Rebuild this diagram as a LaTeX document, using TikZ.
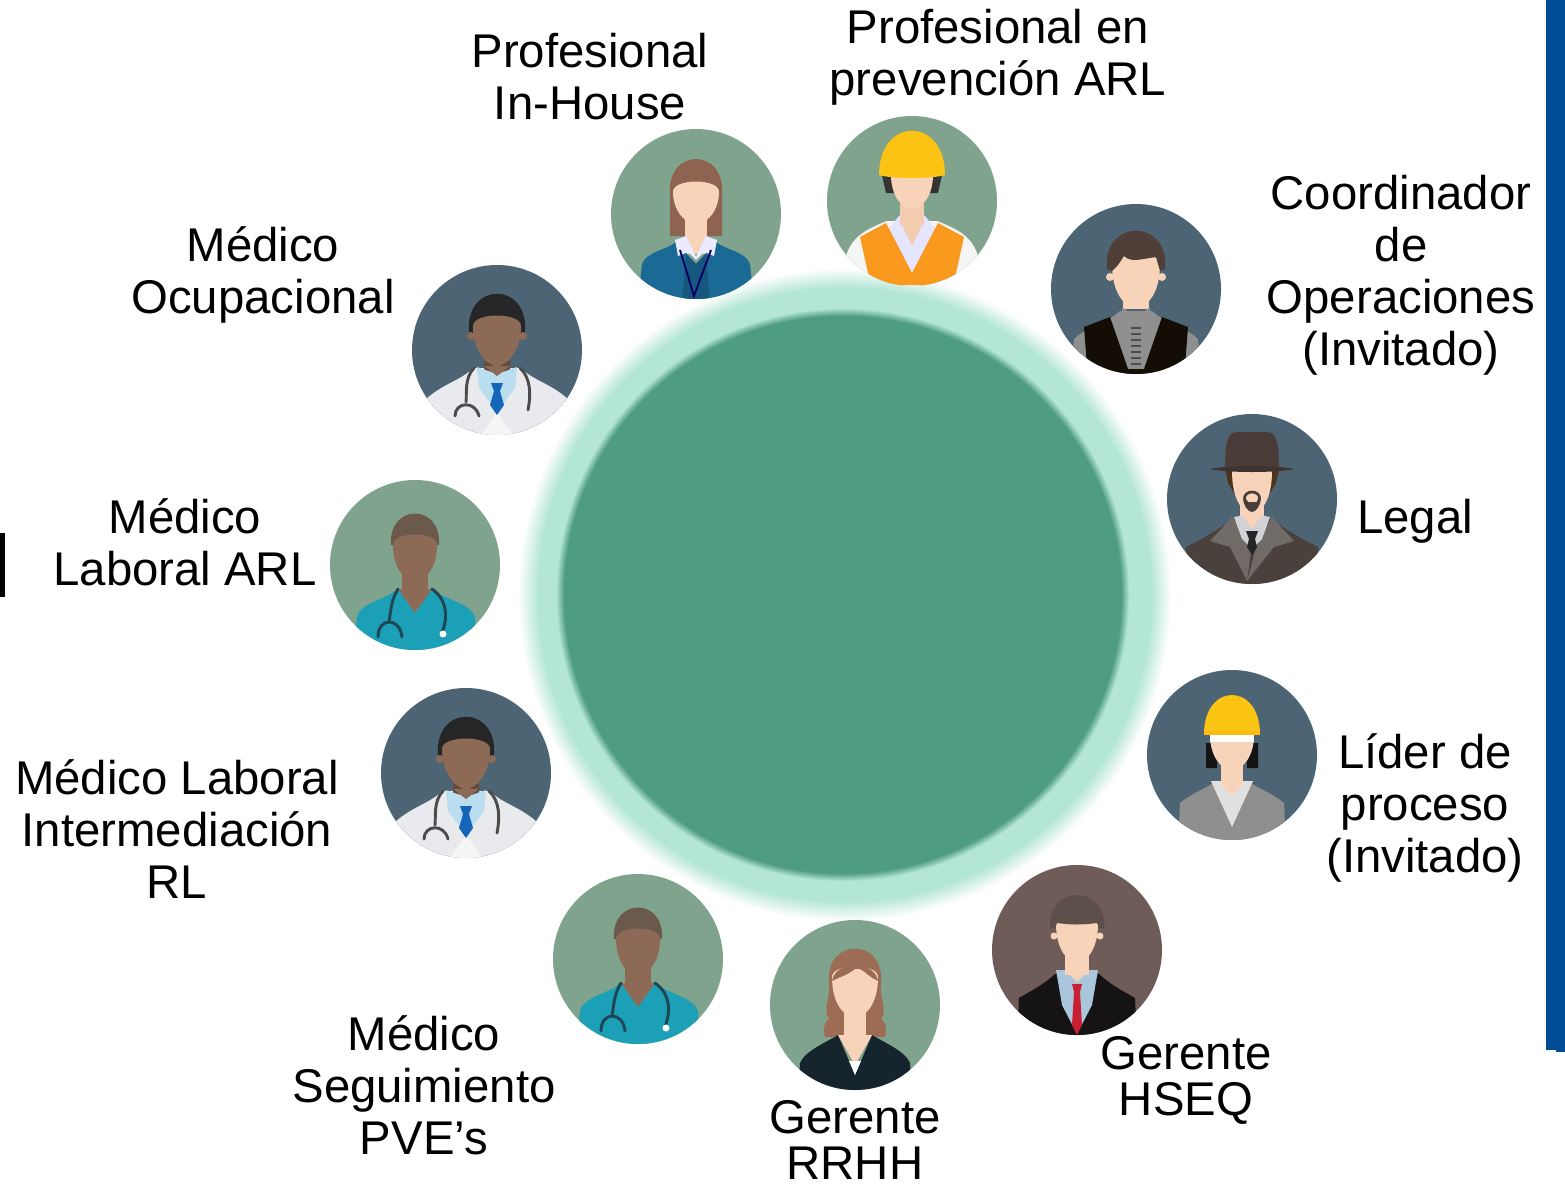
\documentclass[tikz,border=0pt]{standalone}
\usepackage{fontspec}
\setmainfont{Liberation Sans}
\definecolor{halog}{HTML}{B4E6D6}
\definecolor{coreg}{HTML}{4E9C83}
\definecolor{bgslate}{HTML}{4C6473}
\definecolor{bggreen}{HTML}{80A38D}
\definecolor{bgbrown}{HTML}{6F5B57}
\definecolor{skin}{HTML}{F7D3B9}
\definecolor{skindark}{HTML}{8C6A56}
\definecolor{coat}{HTML}{E9EAED}
\definecolor{barblue}{HTML}{004D95}
\definecolor{helmet}{HTML}{FBC312}
\definecolor{vest}{HTML}{F9991E}
\definecolor{scrub}{HTML}{1BA0B8}
\definecolor{steth}{HTML}{1F4652}
\definecolor{nursehair}{HTML}{6B5A4C}
\definecolor{tieblue}{HTML}{1565B8}
\definecolor{collarblue}{HTML}{BBDDF0}
\definecolor{jacketblue}{HTML}{1B6A96}
\definecolor{jacketdeep}{HTML}{17567D}
\definecolor{hairred}{HTML}{8E6450}
\definecolor{hairwarm}{HTML}{9C6C55}
\definecolor{hairgrey}{HTML}{5D4F49}
\definecolor{hairdark}{HTML}{4F3F38}
\definecolor{coatbrown}{HTML}{4A403C}
\definecolor{lapel}{HTML}{716B68}
\definecolor{hatbrown}{HTML}{4A3C38}
\definecolor{suitnavy}{HTML}{16242E}
\definecolor{shirtblue}{HTML}{A9C6DD}
\definecolor{tiered}{HTML}{C82030}
\definecolor{suitblack}{HTML}{151313}
\definecolor{midgrey}{HTML}{8F8F8F}
\tikzset{
 avatarbase/.style={circle,inner sep=0pt,minimum size=127.5pt,draw=none},
 lbl/.style={font=\fontsize{35.5}{39}\selectfont,align=center,text=black,inner sep=0pt},
 lbltight/.style={font=\fontsize{35.5}{34.5}\selectfont,align=center,text=black,inner sep=0pt},
}
% name, cx, cy, background, figure
\newcommand{\avfig}[5]{%
 \node[avatarbase,fill=#4] (#1) at (#2,#3) {};
 \begin{scope}[shift={(#2,#3)}]
  \clip (0,0) circle (85);
  #5
 \end{scope}}
\newcommand{\face}[4]{\fill[#1] ({-#2},#3) .. controls ({-#2},{#4-14}) and ({-.5*#2},#4) .. (0,#4) .. controls ({.5*#2},#4) and (#2,{#4-14}) .. (#2,#3) .. controls (#2,{#3-14}) and ({-#2},{#3-14}) .. cycle;}
\newcommand{\necks}[4]{\fill[#1] ({-#2},#3) rectangle (#2,#4);}
\newcommand{\doctorfig}{%
 \fill[coat] (-72,90) -- (-72,50) .. controls (-55,34) and (-35,30) .. (-24,18) -- (24,18) .. controls (35,30) and (55,34) .. (72,50) -- (72,90) -- cycle;
 \fill[black!4] (-20,90) -- (0,62) -- (20,90) -- cycle;
 \fill[black!85!white] (-28,-18) .. controls (-32,-69) and (32,-69) .. (28,-18) -- (24,-14) -- (-24,-14) -- cycle;
 \necks{skindark}{13}{0}{24}
 \fill[black!30!skindark] (-13,10) -- (0,18) -- (13,10) -- (13,22) -- (-13,22) -- cycle;
 \face{skindark}{24}{-24}{14}
 \fill[skindark] (-26,-14) circle (4) (26,-14) circle (4);
 \fill[collarblue] (-20,17) -- (0,24) -- (20,17) -- (18,38) -- (0,62) -- (-18,38) -- cycle;
 \fill[skindark] (-13,16) -- (0,26) -- (13,16) -- cycle;
 \fill[tieblue] (-6,33) -- (6,33) -- (3,41) -- (7,55) -- (0,65) -- (-7,55) -- (-3,41) -- cycle;
 \draw[black!70,line width=2.2pt,line cap=round] (-23,18) .. controls (-33,28) and (-30,45) .. (-31,52);
 \draw[black!70,line width=2.2pt,line cap=round] (-42,66) .. controls (-42,52) and (-22,50) .. (-18,66);
 \draw[black!70,line width=2.2pt,line cap=round] (23,18) .. controls (34,28) and (34,45) .. (31,60);
}
\newcommand{\nursefig}{%
 \fill[nursehair] (-24,-20) .. controls (-27,-62) and (27,-62) .. (24,-20) -- cycle;
 \necks{skindark}{13}{0}{40}
 \fill[scrub] (-62,90) -- (-58,52) .. controls (-55,38) and (-30,35) .. (-17,24) -- (0,48) -- (17,24) .. controls (30,35) and (55,38) .. (60,52) -- (62,90) -- cycle;
 \fill[skindark] (-17,24) -- (0,48) -- (17,24) -- cycle;
 \face{skindark}{22}{-20}{16}
 \draw[steth,line width=2.2pt,line cap=round] (-17,24) .. controls (-24,35) and (-24,45) .. (-26,57);
 \draw[steth,line width=2.2pt,line cap=round] (-37,72) .. controls (-37,52) and (-15,52) .. (-13,72);
 \draw[steth,line width=2.2pt,line cap=round] (17,24) .. controls (34,36) and (32,55) .. (27,68);
 \fill[white] (28,69) circle (3.5);
}
\begin{document}
\begin{tikzpicture}[x=0.75pt,y=-0.75pt]
\useasboundingbox (0,0) rectangle (1565,1184);
\fill[white] (0,0) rectangle (1565,1184);
% side marks
\coordinate (barA) at (0,533);
\coordinate (barB) at (5,597);
\fill[black] (barA) rectangle (barB);
\coordinate (blueA) at (1546,0);
\coordinate (blueB) at (1565,1050);
\fill[barblue] (blueA) rectangle (blueB);
\fill[barblue] (1556,1050) rectangle (1565,1052);
% halo and central disc
\foreach \i in {0,...,20}{
 \pgfmathsetmacro\rr{327-\i}
 \pgfmathsetmacro\pp{100*\i/20}
 \fill[halog!\pp!white] (845,595) circle (\rr);
}
\foreach \i in {0,...,8}{
 \pgfmathsetmacro\rr{287-\i}
 \pgfmathsetmacro\pp{100*\i/8}
 \fill[coreg!\pp!halog] (843,595) circle (\rr);
}
% In-House woman
\avfig{inhouse}{696}{214}{bggreen}{
 \fill[hairred] (-26,-22) .. controls (-28,-66) and (28,-66) .. (26,-22) -- (26,22) -- (-26,22) -- cycle;
 \necks{skin}{11}{0}{40}
 \fill[jacketblue] (-58,90) -- (-54,50) .. controls (-50,38) and (-30,36) .. (-20,28) -- (0,50) -- (20,28) .. controls (30,36) and (50,38) .. (54,50) -- (58,90) -- cycle;
 \fill[jacketdeep] (-10,40) -- (0,50) -- (10,40) -- (14,90) -- (-14,90) -- cycle;
 \fill[white!92!blue] (-21,26) -- (-10,22) -- (0,43) -- (10,22) -- (21,26) -- (18,42) -- (8,38) -- (0,46) -- (-8,38) -- (-18,42) -- cycle;
 \fill[skin] (-9,20) -- (0,38) -- (9,20) -- cycle;
 \face{skin}{23}{-22}{10}
 \draw[black!60!blue,line width=1.4pt] (-16,36) -- (-2,82) -- (15,36);
}
% prevention engineer
\avfig{prevencion}{912}{201}{bggreen}{
 \fill[white!96!black] (-66,90) -- (-66,55) .. controls (-60,35) and (-45,28) .. (-25,20) -- (25,20) .. controls (45,28) and (60,35) .. (66,55) -- (66,90) -- cycle;
 \fill[white!90!blue] (-24,28) -- (-12,14) -- (12,14) -- (24,28) -- (0,72) -- cycle;
 \necks{skin!92!brown}{12}{0}{24}
 \fill[skin!92!brown] (-12,20) -- (0,45) -- (12,20) -- cycle;
 \fill[vest] (-52,36) -- (-26,22) -- (0,72) -- (26,22) -- (52,36) -- (44,72) -- (36,84) -- (-36,84) -- (-44,72) -- cycle;
 \fill[black!80] (-30,-26) -- (30,-26) -- (26,-8) -- (-26,-8) -- cycle;
 \face{skin}{21}{-26}{8}
 \fill[helmet] (-33,-26) .. controls (-33,-85) and (33,-85) .. (33,-26) .. controls (20,-22) and (-20,-22) .. (-33,-26) -- cycle;
}
% coordinator
\avfig{coordinador}{1136}{289}{bgslate}{
 \fill[midgrey] (-66,90) -- (-62,50) .. controls (-50,38) and (-30,35) .. (-16,22) -- (16,22) .. controls (30,35) and (50,38) .. (62,50) -- (66,90) -- cycle;
 \fill[black!90!brown] (-52,38) -- (-26,28) -- (-8,80) -- (8,80) -- (26,28) -- (52,38) -- (48,90) -- (-48,90) -- cycle;
 \necks{skin}{13}{0}{20}
 \fill[midgrey] (-14,18) -- (0,28) -- (14,18) -- (14,32) -- (-14,32) -- cycle;
 \foreach \yy in {38,44,50,56,62,68,74}{\fill[black!70] (-5,\yy) rectangle (5,{\yy+1.5});}
 \face{skin}{24}{-25}{18}
 \fill[skin] (-26,-12) circle (4) (26,-12) circle (4);
 \fill[hairdark] (-29,-20) .. controls (-34,-71) and (34,-71) .. (29,-20) -- (24,-18) -- (20,-32) .. controls (5,-30) and (-5,-26) .. (-12,-33) -- (-18,-24) -- (-24,-18) -- cycle;
}
% legal
\avfig{legal}{1252}{499}{bgslate}{
 \fill[coatbrown] (-68,90) -- (-66,48) .. controls (-50,40) and (-35,32) .. (-20,20) -- (20,20) .. controls (35,32) and (50,40) .. (66,48) -- (68,90) -- cycle;
 \fill[lapel] (-42,42) -- (-20,18) -- (0,45) -- (-5,82) -- (-22,48) -- cycle;
 \fill[lapel] (42,42) -- (20,18) -- (5,45) -- (-5,82) -- (22,48) -- cycle;
 \necks{skin}{12}{0}{25}
 \fill[blue!10!black!18!white] (-18,18) -- (-8,16) -- (8,16) -- (18,18) -- (10,40) -- (0,50) -- (-10,40) -- cycle;
 \fill[skin] (-10,16) -- (0,30) -- (10,16) -- cycle;
 \fill[black!85] (-6,32) -- (6,32) -- (3,40) -- (5,48) -- (0,56) -- (-5,48) -- (-3,40) -- cycle;
 \fill[black!60!brown] (-27,-30) -- (-24,-16) -- (-18,-6) -- (18,-6) -- (24,-16) -- (27,-30) -- cycle;
 \face{skin}{20}{-28}{14}
 \draw[hatbrown,line width=2pt] (0,-1) ellipse (7.5 and 6);
 \fill[hatbrown] (-9,-1) .. controls (-9,6) and (-4,13) .. (0,13) .. controls (4,13) and (9,6) .. (9,-1) -- (5,3) -- (-5,3) -- cycle;
 \fill[skin] (-4.5,0.5) rectangle (4.5,3);
 \fill[hatbrown] (-27,-30) .. controls (-27,-55) and (-25,-67) .. (-15,-67) .. controls (-8,-67) and (8,-67) .. (15,-67) .. controls (25,-67) and (27,-55) .. (27,-30) -- cycle;
 \fill[hatbrown!85!black] (-42,-30) .. controls (-25,-34) and (25,-34) .. (42,-30) .. controls (25,-26) and (-25,-26) .. (-42,-30) -- cycle;
}
% process leader
\avfig{lider}{1232}{755}{bgslate}{
 \fill[midgrey] (-54,90) -- (-52,48) .. controls (-40,38) and (-25,33) .. (-16,26) -- (16,26) .. controls (25,33) and (40,38) .. (52,48) -- (54,90) -- cycle;
 \fill[black!12!white] (-21,26) -- (21,26) -- (0,72) -- cycle;
 \fill[black!92] (-26,-12) rectangle (-15,13) (15,-12) rectangle (26,13);
 \necks{skin}{11}{0}{32}
 \fill[skin] (-11,26) -- (0,42) -- (11,26) -- cycle;
 \face{skin}{22}{-20}{15}
 \fill[white] (-22,-22) rectangle (22,-13);
 \fill[helmet] (-28,-21) .. controls (-28,-73) and (28,-73) .. (28,-21) -- cycle;
 \fill[helmet!85!orange] (-28,-24) rectangle (28,-20);
}
% HSEQ manager
\avfig{hseq}{1077}{950}{bgbrown}{
 \fill[suitblack] (-60,90) -- (-58,48) .. controls (-48,42) and (-35,36) .. (-22,24) -- (22,24) .. controls (35,36) and (48,42) .. (58,48) -- (60,90) -- cycle;
 \fill[shirtblue] (-21,20) -- (21,20) -- (15,55) -- (0,84) -- (-15,55) -- cycle;
 \necks{skin}{12}{0}{25}
 \fill[skin] (-12,20) -- (0,32) -- (12,20) -- cycle;
 \fill[tiered] (-5,34) -- (5,34) -- (3,42) -- (5,75) -- (0,85) -- (-5,75) -- (-3,42) -- cycle;
 \face{skin}{21}{-26}{12}
 \fill[skin] (-23,-14) circle (3.5) (23,-14) circle (3.5);
 \fill[hairgrey] (-27,-22) .. controls (-30,-66) and (30,-66) .. (27,-22) -- (22,-22) -- (20,-27) .. controls (5,-25) and (-5,-25) .. (-20,-27) -- (-22,-22) -- cycle;
}
% HR manager
\avfig{rrhh}{855}{1005}{bggreen}{
 \fill[hairwarm] (-26,-22) .. controls (-30,-68) and (30,-68) .. (26,-22) .. controls (24,-8) and (33,5) .. (26,14) .. controls (34,20) and (30,30) .. (30,32) -- (-30,32) .. controls (-30,30) and (-34,20) .. (-26,14) .. controls (-33,5) and (-24,-8) .. (-26,-22) -- cycle;
 \necks{skin}{11}{0}{40}
 \fill[suitnavy] (-57,90) -- (-55,58) .. controls (-50,46) and (-30,38) .. (-17,30) -- (0,70) -- (17,30) .. controls (30,38) and (50,46) .. (55,58) -- (57,90) -- cycle;
 \fill[skin] (-17,30) -- (0,60) -- (17,30) -- cycle;
 \fill[white] (-6,56) -- (6,56) -- (0,70) -- cycle;
 \face{skin}{23}{-28}{12}
 \fill[hairwarm] (-23,-24) .. controls (-20,-45) and (20,-45) .. (23,-24) .. controls (10,-30) and (8,-38) .. (0,-36) .. controls (-8,-30) and (-15,-28) .. (-23,-24) -- cycle;
}
\avfig{seguimiento}{638}{959}{bggreen}{\nursefig}
\avfig{intermediacion}{466}{773}{bgslate}{\doctorfig}
\avfig{laboralarl}{415}{565}{bggreen}{\nursefig}
\avfig{ocupacional}{497}{350}{bgslate}{\doctorfig}
% labels
\node[lbl] (t1) at (590,77) {Profesional\\In-House};
\node[lbl] (t2) at (998,57) {Profesional en\\prevención ARL};
\node[lbl] (t3) at (1401,275) {Coordinador\\de\\Operaciones\\(Invitado)};
\node[lbl] (t4) at (1415,521) {Legal};
\node[lbl] (t5) at (1425,808) {Líder de\\proceso\\(Invitado)};
\node[lbltight] (t6) at (1186,1080) {Gerente\\HSEQ};
\node[lbltight] (t7) at (855,1140) {Gerente\\RRHH};
\node[lbl] (t8) at (424,1085) {Médico\\Seguimiento\\PVE’s};
\node[lbl] (t9) at (177,829) {Médico Laboral\\Intermediación\\RL};
\node[lbl] (t10) at (185,542) {Médico\\Laboral ARL};
\node[lbl] (t11) at (263,275) {Médico\\Ocupacional};
\end{tikzpicture}
\end{document}
